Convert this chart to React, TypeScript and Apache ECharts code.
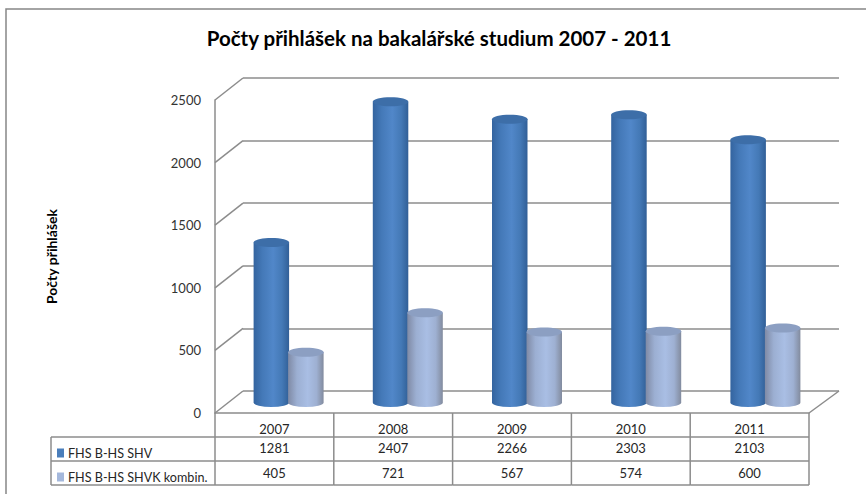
import React, { useEffect, useRef } from "react";
import * as echarts from "echarts";

const title = "Počty přihlášek na bakalářské studium 2007 - 2011";
const yAxisTitle = "Počty přihlášek";
const categories = ["2007", "2008", "2009", "2010", "2011"];
const shvName = "FHS B-HS SHV";
const kombName = "FHS B-HS SHVK kombin.";
const shvValues = [1281, 2407, 2266, 2303, 2103];
const kombValues = [405, 721, 567, 574, 600];
const yTicks = [0, 500, 1000, 1500, 2000, 2500];

const FONT = "Lato, 'Open Sans', sans-serif";
const LINE = "#8c8c8c";
const DEPTH_X = 28;
const DEPTH_Y = 22;
const BAR_W = 35.5;
const ROW_1 = 437;
const ROW_2 = 461;
const ROW_3 = 485;
const TABLE_LEFT = 51;

function cylinder(api: any, side: number, stops: string[], top: string) {
  const i = api.value(0);
  const p = api.coord([i, api.value(1)]);
  const base = api.coord([i, 0]);
  const cx = p[0] - DEPTH_X / 2 + side * 17.25;
  const yTop = p[1] + DEPTH_Y / 2 + 1;
  const yBase = base[1] + DEPTH_Y / 2 + 0.5;
  const rx = BAR_W / 2;
  const ry = 4.5;
  const fill = new echarts.graphic.LinearGradient(0, 0, 1, 0, [
    { offset: 0, color: stops[0] },
    { offset: 0.25, color: stops[1] },
    { offset: 0.55, color: stops[2] },
    { offset: 0.8, color: stops[3] },
    { offset: 1, color: stops[4] },
  ]);
  const d = `M${cx - rx} ${yTop} L${cx - rx} ${yBase} A${rx} ${ry} 0 0 0 ${cx + rx} ${yBase} L${cx + rx} ${yTop} Z`;
  return {
    type: "group",
    children: [
      { type: "path", shape: { pathData: d }, style: { fill } },
      { type: "ellipse", shape: { cx, cy: yTop, rx, ry }, style: { fill: top } },
    ],
  };
}

function line(x1: number, y1: number, x2: number, y2: number) {
  return {
    type: "line",
    shape: { x1, y1, x2, y2 },
    style: { stroke: LINE, lineWidth: 1.5 },
  };
}

function cell(x: number, y: number, text: string) {
  return {
    type: "text",
    style: { x, y, text: text, align: "center", verticalAlign: "middle", fill: "#262626", font: `13px ${FONT}` },
  };
}

export default function App() {
  const ref = useRef<HTMLDivElement>(null);
  useEffect(() => {
    const chart = echarts.init(ref.current!, null, { renderer: "svg" });
    chart.setOption({
      animation: false,
      backgroundColor: "#fff",
      title: {
        text: title,
        left: 434,
        top: 22,
        textAlign: "center",
        textStyle: { fontFamily: FONT, fontSize: 20.5, fontWeight: "bold", color: "#000" },
      },
      legend: {
        orient: "vertical",
        left: 52,
        top: 441,
        itemWidth: 7,
        itemHeight: 9,
        itemGap: 10,
        selectedMode: false,
        textStyle: { fontFamily: FONT, fontSize: 12.6, color: "#262626", lineHeight: 14, padding: [0, 0, 0, -1] },
        data: [
          { name: shvName, icon: "rect", itemStyle: { color: "#4a7ebb" } },
          { name: kombName, icon: "rect", itemStyle: { color: "#a4b8dc" } },
        ],
      },
      grid: [
        { left: 243, right: 27, top: 78, bottom: 103 },
        { left: 215, right: 57, top: 100, bottom: 81 },
      ],
      xAxis: [
        { type: "category", gridIndex: 0, data: categories, show: false },
        {
          type: "category",
          gridIndex: 1,
          data: categories,
          axisLine: { lineStyle: { color: LINE, width: 1.5 } },
          axisTick: { show: false },
          axisLabel: { fontFamily: FONT, fontSize: 13, color: "#262626", margin: 9 },
        },
      ],
      yAxis: [
        {
          type: "value",
          gridIndex: 0,
          min: 0,
          max: 2500,
          interval: 500,
          axisLine: { show: false },
          axisTick: { show: false },
          axisLabel: { show: false },
          splitLine: { lineStyle: { color: LINE, width: 1.5 } },
        },
        {
          type: "value",
          gridIndex: 1,
          min: 0,
          max: 2500,
          interval: 500,
          name: yAxisTitle,
          nameLocation: "middle",
          nameRotate: 90,
          nameGap: 157,
          nameTextStyle: { fontFamily: FONT, fontSize: 14, fontWeight: "bold", color: "#000" },
          axisLine: { show: true, lineStyle: { color: LINE, width: 1.5 } },
          axisTick: { show: false },
          axisLabel: { fontFamily: FONT, fontSize: 13, color: "#333", margin: 14, formatter: (v: number) => String(v) },
          splitLine: { show: false },
        },
      ],
      graphic: [
        {
          type: "polyline",
          shape: { points: [[6, 494], [6, 9], [866, 9]] },
          style: { stroke: "#868686", lineWidth: 1.5, fill: "none" },
          silent: true,
        },
      ],
      series: [
        {
          name: "walls",
          type: "custom",
          xAxisIndex: 0,
          yAxisIndex: 0,
          silent: true,
          z: 1,
          data: yTicks.map((t) => [0, t]),
          encode: { x: 0, y: 1 },
          renderItem: (_: any, api: any) => {
            const p = api.coord([0, api.value(1)]);
            const left = p[0] - api.size([1, 0])[0] / 2;
            const right = left + api.size([1, 0])[0] * categories.length;
            const kids: any[] = [line(left, p[1], left - DEPTH_X, p[1] + DEPTH_Y)];
            if (api.value(1) === 0) kids.push(line(right, p[1], right - DEPTH_X - 2, p[1] + DEPTH_Y));
            return { type: "group", children: kids };
          },
        },
        {
          name: "table",
          type: "custom",
          xAxisIndex: 1,
          yAxisIndex: 1,
          silent: true,
          z: 1,
          data: categories.map((_, i) => [i, 0]),
          encode: { x: 0, y: 1 },
          renderItem: (_: any, api: any) => {
            const i = api.value(0);
            const p = api.coord([i, 0]);
            const w = api.size([1, 0])[0];
            const l = p[0] - w / 2;
            const r = p[0] + w / 2;
            const kids: any[] = [
              line(r, p[1], r, ROW_3),
              line(l, ROW_1, r, ROW_1),
              line(l, ROW_2, r, ROW_2),
              line(l, ROW_3, r, ROW_3),
              cell(p[0], 448, String(shvValues[i])),
              cell(p[0], 473, String(kombValues[i])),
            ];
            if (i === 0) {
              kids.push(
                line(l, p[1], l, ROW_3),
                line(TABLE_LEFT, ROW_1, l, ROW_1),
                line(TABLE_LEFT, ROW_2, l, ROW_2),
                line(TABLE_LEFT, ROW_3, l, ROW_3),
                line(TABLE_LEFT, ROW_1, TABLE_LEFT, ROW_3)
              );
            }
            return { type: "group", children: kids };
          },
        },
        {
          name: shvName,
          type: "custom",
          xAxisIndex: 0,
          yAxisIndex: 0,
          z: 3,
          data: shvValues.map((v, i) => [i, v]),
          encode: { x: 0, y: 1 },
          renderItem: (_: any, api: any) =>
            cylinder(api, -1, ["#34649f", "#4479b8", "#5187c9", "#4479b6", "#315f97"], "#3d6ea8"),
        },
        {
          name: kombName,
          type: "custom",
          xAxisIndex: 0,
          yAxisIndex: 0,
          z: 4,
          data: kombValues.map((v, i) => [i, v]),
          encode: { x: 0, y: 1 },
          renderItem: (_: any, api: any) =>
            cylinder(api, 1, ["#7f8aa5", "#9cafd2", "#a9bee4", "#9eb0d2", "#828b9e"], "#8c9fc2"),
        },
      ],
    });
    return () => chart.dispose();
  }, []);
  return <div ref={ref} style={{ position: "absolute", left: 0, top: 0, width: 866, height: 494 }} />;
}
